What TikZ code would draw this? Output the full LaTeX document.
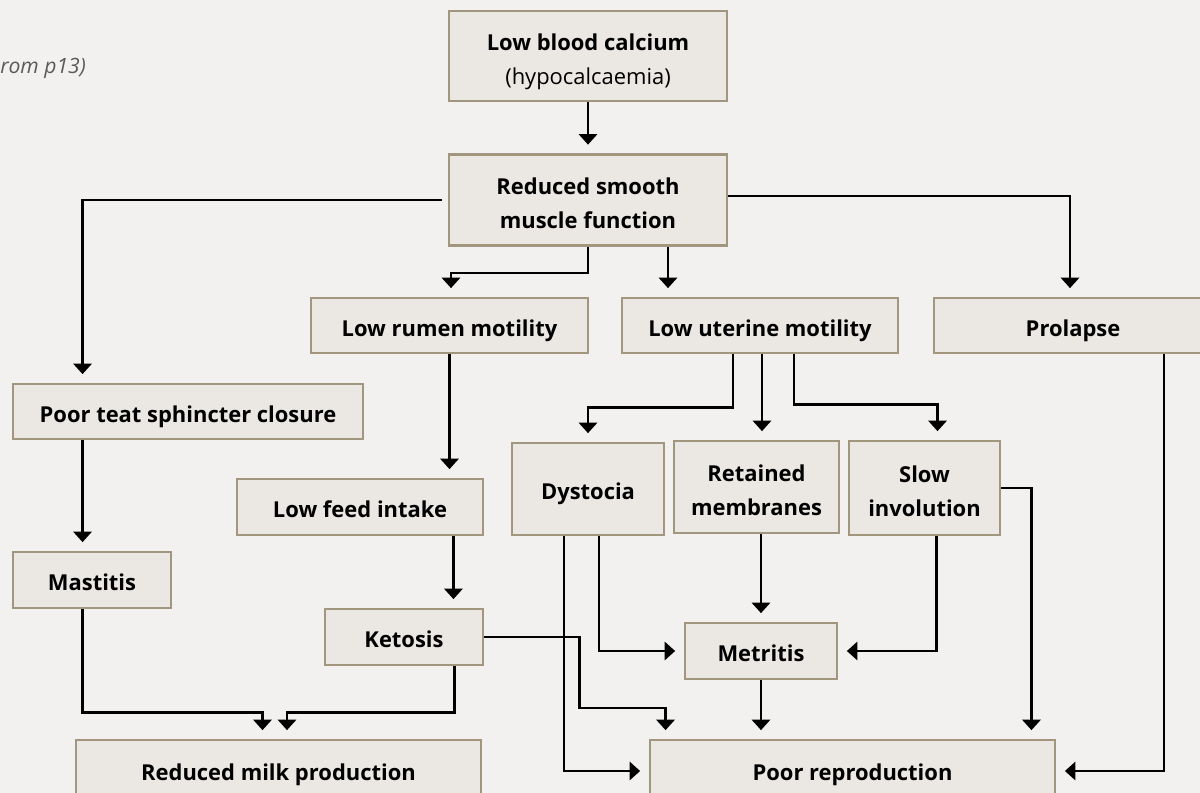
\documentclass[tikz,border=0pt]{standalone}
\usepackage{fontspec}
\setmainfont{Open Sans}
\usetikzlibrary{arrows.meta,calc}
\definecolor{hcbg}{RGB}{242,241,239}
\definecolor{hcfill}{RGB}{235,232,228}
\definecolor{hcedge}{RGB}{163,150,126}
\definecolor{hcnote}{RGB}{90,90,90}
\tikzset{
  hcbox/.style={draw=hcedge, line width=2pt, fill=hcfill, align=center, inner sep=0pt, font=\bfseries\fontsize{15.6}{24}\selectfont, execute at begin node={\rule[-4pt]{0pt}{#1}}},
  hcbox/.default=23.4pt,
  hcarr/.style={-{Triangle[width=13pt,length=7.5pt]}, line width=2pt, shorten >=6pt}
}
\begin{document}
\begin{tikzpicture}[x=0.025cm, y=-0.025cm]
  \useasboundingbox (0,0) rectangle (1200,793);
  \fill[hcbg] (0,0) rectangle (1200,793);
  \clip (0,0) rectangle (1200,793);
  \node[anchor=west, inner sep=0pt, text=hcnote, font=\itshape\fontsize{15}{17}\selectfont] (note) at (0,68) {rom p13)};
  % top of the chain
  \node[hcbox=48.7pt, minimum width=6.95cm, minimum height=2.25cm] (calcium) at (588,56) {Low blood calcium\\\mdseries(hypocalcaemia)};
  \node[hcbox=48.7pt, minimum width=6.95cm, minimum height=2.275cm] (smooth) at (588,200) {Reduced smooth\\muscle function};
  \node[hcbox, minimum width=6.925cm, minimum height=1.375cm] (rumen) at (449.5,325.5) {Low rumen motility};
  \node[hcbox, minimum width=6.9cm, minimum height=1.375cm] (uterine) at (760,325.5) {Low uterine motility};
  \node[hcbox, minimum width=6.95cm, minimum height=1.375cm] (prolapse) at (1073,325.5) {Prolapse};
  \node[hcbox, minimum width=8.75cm, minimum height=1.375cm] (teat) at (188,411.5) {Poor teat sphincter closure};
  \node[hcbox, minimum width=6.15cm, minimum height=1.4cm] (feed) at (360,507) {Low feed intake};
  \node[hcbox, minimum width=3.8cm, minimum height=2.3cm] (dystocia) at (588,489) {Dystocia};
  \node[hcbox=48.7pt, minimum width=4.125cm, minimum height=2.3cm] (retained) at (756.5,487) {Retained\\membranes};
  \node[hcbox=48.7pt, minimum width=3.775cm, minimum height=2.35cm] (slow) at (924.5,488) {Slow\\involution};
  \node[hcbox, minimum width=3.95cm, minimum height=1.4cm] (mastitis) at (92,580) {Mastitis};
  \node[hcbox, minimum width=3.95cm, minimum height=1.4cm] (ketosis) at (404,637) {Ketosis};
  \node[hcbox, minimum width=3.8cm, minimum height=1.4cm] (metritis) at (761,651) {Metritis};
  % outcomes
  \node[hcbox=22pt, minimum width=10.125cm, minimum height=1.55cm] (milk) at (278.5,771) {Reduced milk production};
  \node[hcbox=22pt, minimum width=10.125cm, minimum height=1.55cm] (reproduction) at (852.5,771) {Poor reproduction};
  \coordinate (tm) at ($(teat.south west)+(71,0)$);
  \coordinate (fk) at ($(feed.south east)+(-31,0)$);
  \coordinate (kr) at ($(ketosis.south east)+(-30,0)$);
  \coordinate (su) at ($(smooth.south)+(80,0)$);
  \coordinate (ur) at ($(uterine.south)+(2,0)$);
  \draw[hcarr] (calcium.south) -- (smooth.north);
  \draw[hcarr, shorten <=4pt] (smooth.west) -| ($(teat.north west)+(71,0)$);
  \draw[hcarr] (smooth.south) -- ++(0,26) -| ($(rumen.north)+(1.5,0)$);
  \draw[hcarr] (su) -- (su |- uterine.north);
  \draw[hcarr] ($(smooth.east)+(0,-4)$) -| ($(prolapse.north)+(-3,0)$);
  \draw[hcarr] (rumen.south) -- (rumen.south |- feed.north);
  \draw[hcarr] ($(uterine.south)+(-27,0)$) -- ++(0,53) -| (dystocia.north);
  \draw[hcarr] (ur) -- (ur |- retained.north);
  \draw[hcarr] ($(uterine.south)+(34,0)$) -- ++(0,50) -| ($(slow.north)+(13,0)$);
  \draw[hcarr] (tm) -- (tm |- mastitis.north);
  \draw[hcarr] (fk) -- (fk |- ketosis.north);
  \draw[hcarr] (tm |- mastitis.south) -- ++(0,103) -| ($(milk.north)+(-16,0)$);
  \draw[hcarr] (kr) -- ++(0,46) -| ($(milk.north)+(8.5,0)$);
  \draw[hcarr] (ketosis.east) -- ++(95,0) -- ++(0,71) -| ($(reproduction.north west)+(17,0)$);
  \draw[hcarr] ($(dystocia.south)+(-24,0)$) |- (reproduction.west);
  \draw[hcarr] ($(dystocia.south)+(11,0)$) |- (metritis.west);
  \draw[hcarr] (metritis.north |- retained.south) -- (metritis.north);
  \draw[hcarr] ($(slow.south)+(12,0)$) |- (metritis.east);
  \draw[hcarr] (slow.east) -| ($(reproduction.north east)+(-25,0)$);
  \draw[hcarr] (metritis.south) -- (metritis.south |- reproduction.north);
  \draw[hcarr] ($(prolapse.south)+(91,0)$) |- (reproduction.east);
\end{tikzpicture}
\end{document}
